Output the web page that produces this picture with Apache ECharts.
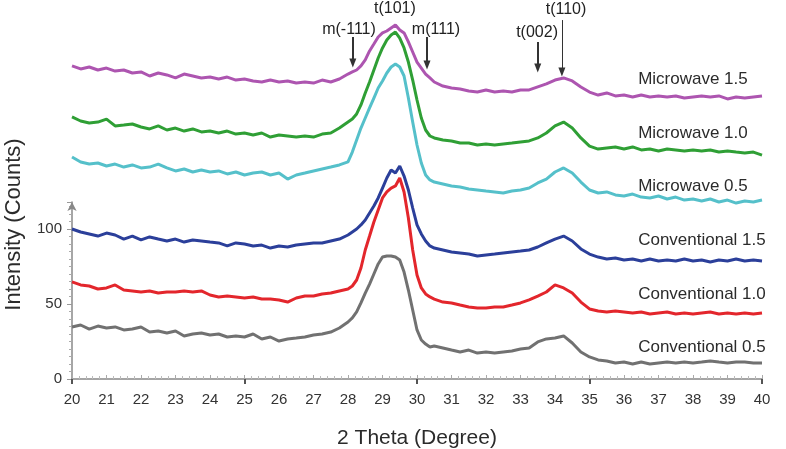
<!DOCTYPE html>
<html>
<head>
<meta charset="utf-8">
<script src="https://cdn.jsdelivr.net/npm/echarts@6/dist/echarts.min.js"></script>
<style>html,body{margin:0;padding:0;background:#fff}#c{width:786px;height:449px}</style>
</head>
<body>
<div id="c"></div>
<script>
// 2-theta positions (degrees)
const twoTheta = [
  20,20.25,20.5,20.75,21,21.25,21.5,21.75,22,22.25,22.5,22.75,23,23.25,23.5,23.75,24,24.25,24.5,24.75,25,25.25,25.5,25.75,26,26.25,26.5,26.75,27,27.25,27.5,27.75,28,
  28.125,28.25,28.375,28.5,28.625,28.75,28.875,29,29.125,29.25,29.375,29.5,29.625,29.75,29.875,30,30.125,30.25,30.375,30.5,
  30.75,31,31.25,31.5,31.75,32,32.25,32.5,32.75,33,33.25,33.5,33.75,34,34.25,34.5,34.75,35,35.25,35.5,35.75,36,36.25,36.5,36.75,37,37.25,37.5,37.75,38,38.25,38.5,38.75,39,39.25,39.5,39.75,40
];
// Intensities (with vertical offsets as shown in the figure)
const microwave15 = [
  208.7,206.7,208,206,207.3,205.3,206,204,204.7,202,204,202.7,200.7,203.3,202,200.7,201.3,200,201.3,199.3,200,198.7,198,199.3,198,198.7,197.3,198,197.3,199.3,198,200,203.3,
  204.7,206,208.7,212.7,218.7,223.3,228,230.7,232,234,236,232.7,230.7,224.7,218,211.3,207.3,203.3,200.7,198,
  195.3,194,193.3,192,191.3,192.7,191.3,192,191.3,192.7,192.7,194.7,196.7,199.3,200.7,198.7,194.7,191.3,189.3,190.7,188.7,189.3,188,189.3,188,188.7,188,188.7,187.3,188,188.7,188,188.7,186.7,188,187.3,188,188.7
];
const microwave10 = [
  174.7,172,170.7,171.3,173.3,168.7,169.3,170,168,166.7,168.7,166,167.3,165.3,166.7,164.7,165.3,164,165.3,163.3,164,162.7,164,161.3,162.7,162,161.3,162,161.3,163.3,164,167.3,171.3,
  173.3,176.7,182.7,190.7,198,206,214,220.7,226,229.3,231.3,227.3,220.7,211.3,199.3,186,174,166,162,160.7,
  159.3,158.7,157.3,157.3,156,156.7,156,156.7,157.3,158,158.7,160.7,164,168.7,171.3,167.3,160.7,155.3,153.3,154,154.7,153.3,154.7,152.7,153.3,152,153.3,152.7,152,152.7,152,152.7,151.3,152,151.3,150.7,151.3,149.3
];
const microwave05 = [
  148,144.7,143.3,144,142,143.3,141.3,142.7,140.7,141.3,143.3,140.7,138.7,140,138,139.3,138,138.7,136.7,138,136,137.3,138,136,137.3,133.3,136,137.3,138.7,140,141.3,142.7,144.7,
  151.3,159.3,167.3,174,180.7,187.3,194,198.7,204,208,210,208,202,187.3,171.3,156,144,136,132.7,131.3,
  130,128.7,128,126.7,126,125.3,124.7,124,125.3,126,127.3,130.7,133.3,138,140.7,137.3,131.3,126,124,124.7,122.7,122,123.3,121.3,120.7,122,120,121.3,119.3,120,118.7,120,118,119.3,117.3,118.7,118,119.3
];
const conventional15 = [
  100,98,96.7,95.3,97.3,96,93.3,95.3,92.7,94.7,93.3,92,93.3,91.3,92.7,92,91.3,90.7,88.7,90.7,90,88.7,89.3,87.3,88.7,88,89.3,90,90.7,90.7,92,93.3,96,
  98,100,102.7,106,110.7,115.3,120.7,127.3,134,139.3,137.3,142,135.3,126,114,102.7,96.7,92,88.7,87.3,
  86,84.7,84,83.3,82,82.7,83.3,84,84.7,85.3,86,88,90.7,93.3,95.3,92,86.7,83.3,81.3,80,80.7,79.3,80,78.7,80,78.7,79.3,78.7,80,78.7,79.3,78,79.3,78.7,80,78.7,79.3,78.7
];
const conventional10 = [
  64.7,62.7,62,60,60.7,62.7,59.3,58.7,58,58.7,57.3,58,58,58.7,58,58.7,56,54.7,55.3,54.7,54,54.7,53.3,53.3,52.7,51.3,54,55.3,55.3,56.7,57.3,58.7,60,
  62,66,74,86,95.3,104.7,112.7,120.7,124.7,127.3,128.7,134,124.7,107.3,86,69.3,60.7,56.7,54.7,53.3,
  51.3,50.7,49.3,48,47.3,47.3,48,48,49.3,50.7,52.7,55.3,58,62.7,60.7,57.3,51.3,46.7,45.3,44.7,45.3,44.7,44,44.7,43.3,44,44.7,43.3,44,43.3,44,44.7,43.3,44,43.3,44,43.3,44
];
const conventional05 = [
  34.7,36,33.3,35.3,34,34.7,32.7,33.3,34.7,31.3,32,30.7,32,28.7,30,30.7,29.3,30,28,28.7,28,30,26.7,28,25.3,26.7,27.3,28,29.3,30,31.3,34,38,
  40.7,44.7,50.7,57.3,63.3,70,76.7,81.3,82,82,81.3,79.3,71.3,59.3,46,32.7,26,23.3,21.3,22,
  20.7,19.3,18,19.3,17.3,18,17.3,18,18.7,20,20.7,24.7,26.7,27.3,28.7,24,18,14.7,12.7,12,10.7,11.3,10,11.3,10,10.7,11.3,10.7,11.3,10.7,11.3,12,11.3,10.7,11.3,11.3,10.7,10.7
];
const seriesNames = ['Microwave 1.5','Microwave 1.0','Microwave 0.5','Conventional 1.5','Conventional 1.0','Conventional 0.5'];
const seriesValues = [microwave15, microwave10, microwave05, conventional15, conventional10, conventional05];
const seriesColors = ['#ad55b0','#2f9f35','#55c0ca','#2b3f9a','#e3262c','#717171'];
const seriesLabelY = [200, 164, 128.7, 92.7, 56.7, 21.3];
const seriesLabelX = 36.41;

// peak annotations
const annoText = ['t(101)','m(-111)','m(111)','t(002)','t(110)'];
const annoX = [29.36, 28.03, 30.55, 33.48, 34.32];
const annoY = [246.7, 232.7, 232.7, 230.7, 246.3];
const arrowX = [28.14, 30.29, 33.5, 34.2];
const arrowTop = [228, 228, 224.7, 239.3];
const arrowTip = [210.7, 209.3, 207.3, 204.7];
const arrowWidth = [2, 2, 2, 1];

const yTicks = [0, 50, 100];
const FONT = 'Liberation Sans, Arial, sans-serif';

const chart = echarts.init(document.getElementById('c'), null, {renderer:'canvas'});

const series = seriesNames.map((name, k) => ({
  name, type:'line', showSymbol:false, silent:true,
  xAxisIndex:2, yAxisIndex:1,
  data: twoTheta.map((x, i) => [x, seriesValues[k][i]]),
  lineStyle:{color:seriesColors[k], width:3},
  itemStyle:{color:seriesColors[k]},
  markPoint:{
    silent:true, symbol:'circle', symbolSize:0, animation:false,
    label:{show:true, position:'right', distance:0, color:'#2b2b2b', fontSize:17, fontFamily:FONT},
    data:[{coord:[seriesLabelX, seriesLabelY[k]], label:{formatter:name}}]
  }
}));

// peak annotations on the top series
series[0].markPoint.data = series[0].markPoint.data.concat(annoText.map((t, i) => ({
  coord:[annoX[i], annoY[i]],
  label:{formatter:t, position:'inside', fontSize:16, color:'#222', fontFamily:FONT}
})));
series[0].markLine = {
  silent:true, animation:false, symbolSize:[7,9],
  label:{show:false},
  data: arrowX.map((x, i) => [
    {coord:[x, arrowTop[i]], symbol:'none', lineStyle:{color:'#333', width:arrowWidth[i], type:'solid'}},
    {coord:[x, arrowTip[i]], symbol:'triangle'}
  ])
};

const option = {
  animation:false,
  backgroundColor:'#fff',
  grid:[
    {left:72, right:24, top:202, bottom:70, containLabel:false, outerBoundsMode:'none'},   // visible axes
    {left:72, right:24, top:1, bottom:70, containLabel:false, outerBoundsMode:'none'}      // plotting area (same scale, taller)
  ],
  xAxis:[{
    gridIndex:0, type:'value', min:20, max:40, interval:1, position:'bottom',
    axisLine:{lineStyle:{color:'#888', width:1.5}},
    axisTick:{inside:true, length:4, lineStyle:{color:'#aaa'}},
    minorTick:{show:true, splitNumber:5, length:3, lineStyle:{color:'#bbb'}},
    splitLine:{show:false},
    axisLabel:{fontSize:15, color:'#333', margin:13, fontFamily:FONT},
    name:'2 Theta (Degree)', nameLocation:'middle', nameGap:49,
    nameTextStyle:{fontSize:21, color:'#2b2b2b', fontFamily:FONT}
  },{
    gridIndex:0, type:'value', min:20, max:40, interval:5, position:'bottom',
    axisLine:{show:false},
    axisTick:{inside:false, length:5, lineStyle:{color:'#555', width:2}},
    splitLine:{show:false},
    axisLabel:{show:false}
  },{
    gridIndex:1, type:'value', min:20, max:40, show:false
  }],
  yAxis:[{
    gridIndex:0, type:'value', min:0, max:118, interval:50,
    axisLine:{show:true, symbol:['none','arrow'], symbolSize:[7,9], lineStyle:{color:'#888', width:1.5}},
    axisTick:{show:true, length:5, lineStyle:{color:'#999'}},
    minorTick:{show:true, splitNumber:10, length:3, lineStyle:{color:'#aaa'}},
    splitLine:{show:false},
    axisLabel:{fontSize:15, color:'#333', margin:10, fontFamily:FONT, showMaxLabel:false,
      formatter:(v)=> yTicks.includes(v) ? String(v) : ''},
    name:'Intensity (Counts)', nameLocation:'middle', nameGap:47,
    nameTextStyle:{fontSize:22, color:'#2b2b2b', fontFamily:FONT, padding:[0,0,0,132]}
  },{
    gridIndex:1, type:'value', min:0, max:252, show:false
  }],
  series
};
chart.setOption(option);
</script>
</body>
</html>
